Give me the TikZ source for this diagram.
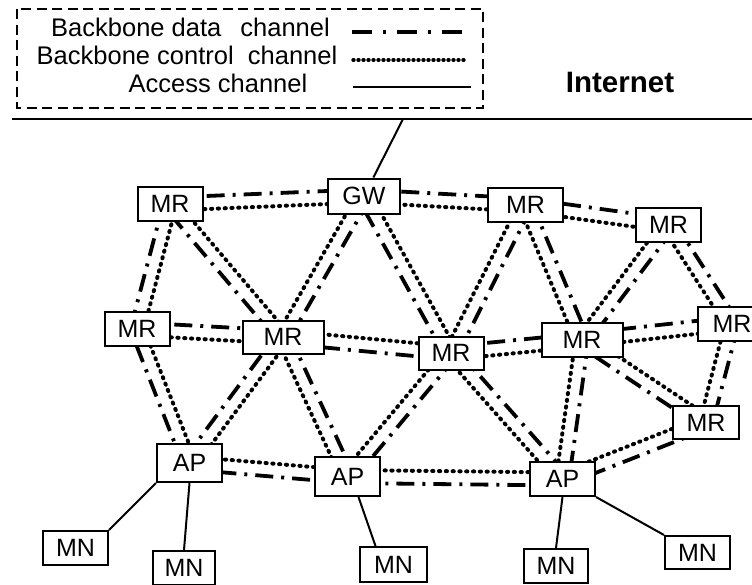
\documentclass[tikz,border=0pt]{standalone}
\usepackage{fontspec}
\setmainfont{Liberation Sans}
\usetikzlibrary{calc}
\pgfdeclarelayer{background}
\pgfsetlayers{background,main}
\newcommand\nodefont{\fontsize{25}{30}\selectfont}
\newcommand\legfont{\fontsize{25.5}{30}\selectfont}
% a backbone link: data channel on the left of #1 -> #2, control channel on the right
\newcommand\linkpair[2]{%
  \draw[datalink] ($(#1)!6.5pt!90:(#2)$) -- ($(#2)!6.5pt!-90:(#1)$);
  \draw[ctrllink] ($(#1)!6.5pt!-90:(#2)$) -- ($(#2)!6.5pt!90:(#1)$);
}
\begin{document}
\begin{tikzpicture}[x=1pt,y=-1pt,
  box/.style={draw, line width=2pt, fill=white, inner sep=0pt,
    minimum width=65pt, minimum height=34pt, font=\nodefont},
  datalink/.style={line width=3.8pt, dash pattern=on 18pt off 8pt on 3pt off 8pt},
  ctrllink/.style={line width=4pt, line cap=round, dash pattern=on 1.2pt off 5.6pt},
  access/.style={line width=2pt},
  legtext/.style={anchor=base, inner sep=0pt, font=\legfont},
]
\useasboundingbox (0,0) rectangle (752,584);

% legend
\draw[line width=2pt, dash pattern=on 10pt off 5.5pt] (17,9) rectangle (483,108);
\node[legtext] (lgData) at (190.5,36) {Backbone data\hspace{0.75em}channel};
\node[legtext] (lgCtrl) at (187,64) {Backbone control~ channel};
\node[legtext] (lgAcc) at (218,92) {Access channel};
\coordinate (lgDa) at (352,32); \coordinate (lgDb) at (462,32);
\coordinate (lgCa) at (353,60); \coordinate (lgCb) at (466,60);
\coordinate (lgAa) at (353,87); \coordinate (lgAb) at (471,87);
\draw[line width=4.2pt, dash pattern=on 20pt off 11pt on 3pt off 11pt] (lgDa) -- (lgDb);
\draw[line width=3.4pt, line cap=round, dash pattern=on 1pt off 4pt] (lgCa) -- (lgCb);
\draw[access] (lgAa) -- (lgAb);

% Internet
\node[anchor=base, inner sep=0pt, font=\fontsize{29.5}{34}\selectfont\bfseries] (inet) at (620,92) {Internet};
\coordinate (netW) at (12,119);
\coordinate (netE) at (752,119);
\coordinate (netGW) at (403,119);
\draw[line width=2.6pt] (netW) -- (netE);

% mesh routers and gateway
\node[box] (MRa) at (170,204) {MR};
\node[box, minimum width=72pt, minimum height=35pt] (GW) at (364,196) {GW};
\node[box] (MRb) at (137,329) {MR};
\node[box, minimum width=81pt, minimum height=33pt] (MRc) at (283,337) {MR};
\node[box, minimum height=33pt] (MRd) at (451,353) {MR};
\node[box, minimum width=75pt] (MRe) at (525.5,205) {MR};
\node[box] (MRf) at (668.5,225) {MR};
\node[box, minimum width=81pt] (MRg) at (582,340) {MR};
\node[box, minimum width=68pt] (MRh) at (732,323.5) {MR};
\node[box, minimum width=66pt, minimum height=33pt] (MRi) at (706,422.5) {MR};

% access points
\node[box, minimum height=38pt] (APa) at (189.5,463) {AP};
\node[box, minimum height=39pt] (APb) at (347.5,476.5) {AP};
\node[box] (APc) at (562.5,479) {AP};

% mesh nodes
\node[box] (MNa) at (75.5,548) {MN};
\node[box, minimum width=62pt] (MNb) at (184,568) {MN};
\node[box, minimum width=67pt, minimum height=35pt] (MNc) at (393.5,564.5) {MN};
\node[box, minimum width=64pt] (MNd) at (556,566) {MN};
\node[box, minimum height=33pt] (MNe) at (697.5,552.5) {MN};

% access links
\draw[access] (netGW) -- (GW);
\draw[access] (APa.south west) -- (MNa.north east);
\draw[access] (APa.south) -- (MNb.north);
\draw[access] ([xshift=11pt]APb.south) -- ([xshift=-18pt]MNc.north);
\draw[access] (APc.south) -- (MNd.north);
\draw[access] (APc.south east) -- (MNe.north west);

% backbone links
\begin{pgfonlayer}{background}
\linkpair{MRa}{GW}
\linkpair{GW}{MRe}
\linkpair{MRe}{MRf}
\linkpair{MRb}{MRa}
\linkpair{MRc}{MRa}
\linkpair{GW}{MRc}
\linkpair{MRd}{GW}
\linkpair{MRe}{MRd}
\linkpair{MRe}{MRg}
\linkpair{MRf}{MRg}
\linkpair{MRf}{MRh}
\linkpair{MRd}{MRg}
\linkpair{MRg}{MRh}
\linkpair{MRi}{MRg}
\linkpair{MRh}{MRi}
\linkpair{MRb}{MRc}
\linkpair{MRd}{MRc}
\linkpair{APa}{MRb}
\linkpair{APa}{MRc}
\linkpair{MRc}{APb}
\linkpair{MRd}{APb}
\linkpair{MRd}{APc}
\linkpair{MRg}{APc}
\linkpair{MRi}{APc}
\linkpair{APb}{APa}
\linkpair{APc}{APb}
\end{pgfonlayer}
\end{tikzpicture}
\end{document}
